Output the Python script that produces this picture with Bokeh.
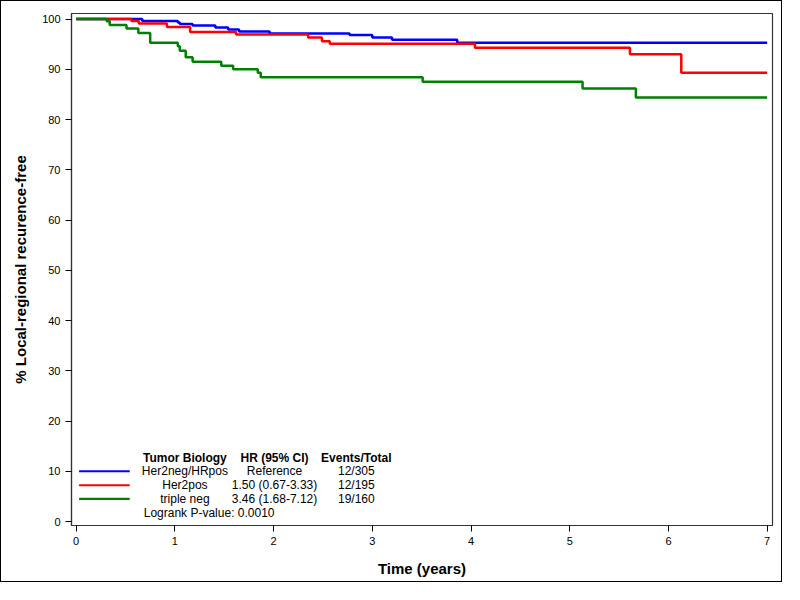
from bokeh.plotting import figure
from bokeh.models import Range1d, FixedTicker
from bokeh.core.properties import value
from bokeh.embed import file_html
from bokeh.resources import INLINE

# ---- data ----
blue_t = [0, 0.67, 1.03, 1.05, 1.18, 1.41, 1.54, 1.65, 1.96, 2.77, 3.00, 3.20, 3.86, 7.0]
blue_s = [100, 99.6, 99.3, 99.0, 98.7, 98.3, 97.9, 97.5, 97.1, 96.8, 96.3, 95.9, 95.3, 95.3]

red_t = [0, 0.56, 0.635, 0.92, 1.155, 1.62, 2.35, 2.49, 2.57, 4.04, 5.61, 6.13, 7.0]
red_s = [100, 99.6, 99.1, 98.4, 97.4, 96.9, 96.3, 95.6, 95.1, 94.3, 93.0, 89.3, 89.3]

green_t = [0, 0.31, 0.34, 0.51, 0.63, 0.75, 1.03, 1.05, 1.11, 1.18, 1.47, 1.59, 1.84, 1.87, 3.51, 5.13, 5.67, 7.0]
green_s = [100, 99.55, 98.8, 98.1, 97.2, 95.3, 94.6, 93.7, 92.4, 91.5, 90.7, 90.0, 89.3, 88.4, 87.5, 86.2, 84.4, 84.4]

groups = ["Her2neg/HRpos", "Her2pos", "triple neg"]
hr_text = ["Reference", "1.50 (0.67-3.33)", "3.46 (1.68-7.12)"]
events = ["12/305", "12/195", "19/160"]
headers = ["Tumor Biology", "HR (95% CI)", "Events/Total"]
pvalue_text = "Logrank P-value: 0.0010"
colors = ["#0000FF", "#FF0000", "#008000"]

x_ticks = [0, 1, 2, 3, 4, 5, 6, 7]
y_ticks = [0, 10, 20, 30, 40, 50, 60, 70, 80, 90, 100]

FONT = "Liberation Sans"

p = figure(width=782, height=582, output_backend="svg", toolbar_location=None,
           x_range=Range1d(-0.047, 7.054), y_range=Range1d(-0.78, 101.1),
           min_border_left=70, min_border_right=11, min_border_top=12, min_border_bottom=58)
p.styles = {"border": "1px solid #000000"}
p.background_fill_color = "white"
p.border_fill_color = "white"
p.outline_line_color = "#333333"
p.outline_line_width = 1.2
p.xgrid.visible = False
p.ygrid.visible = False

for ax in (p.xaxis[0], p.yaxis[0]):
    ax.major_tick_out = 6
    ax.major_tick_in = 0
    ax.minor_tick_out = 0
    ax.minor_tick_in = 0
    ax.axis_line_color = "#333333"
    ax.axis_line_width = 1.2
    ax.major_tick_line_color = "#000000"
    ax.major_label_text_font = FONT
    ax.major_label_text_font_size = "11px"
    ax.major_label_text_color = "#000000"
    ax.axis_label_text_font = FONT
    ax.axis_label_text_font_style = "bold"
    ax.axis_label_text_font_size = "15px"
    ax.axis_label_text_color = "#000000"

p.xaxis.ticker = FixedTicker(ticks=x_ticks)
p.yaxis.ticker = FixedTicker(ticks=y_ticks)
p.xaxis.axis_label = "Time (years)"
p.yaxis.axis_label = "% Local-regional recurence-free"
p.xaxis.major_label_standoff = 5
p.yaxis.major_label_standoff = 5
p.xaxis.axis_label_standoff = 12
p.yaxis.axis_label_standoff = 10

# curves
for t, s, c in [(blue_t, blue_s, colors[0]), (red_t, red_s, colors[1]), (green_t, green_s, colors[2])]:
    p.step(t, s, mode="after", line_color=c, line_width=2.5)

# legend block (positions in data coordinates, converted from reference pixels)
def px_x(px):
    return (px - 77.0) / 100.76

def px_y(py):
    return (535.0 - py) / 5.16

row_y = [px_y(483.3), px_y(497.7), px_y(511.7)]
col_x = [px_x(188), px_x(279.5), px_x(363)]

for i, c in enumerate(colors):
    p.line([px_x(80), px_x(131.7)], [row_y[i], row_y[i]], line_color=c, line_width=2.2)

p.text(x=col_x, y=[px_y(469.3)] * 3, text=headers, text_font=value(FONT),
       text_font_style="bold", text_font_size="12px", text_align="center",
       text_baseline="middle", text_color="#000000")

cells_x, cells_y, cells_t = [], [], []
for i in range(3):
    for j, col in enumerate([groups, hr_text, events]):
        cells_x.append(col_x[j])
        cells_y.append(row_y[i])
        cells_t.append(col[i])
p.text(x=cells_x, y=cells_y, text=cells_t, text_font=value(FONT),
       text_font_size="12px", text_align="center", text_baseline="middle",
       text_color="#000000")

p.text(x=[px_x(146)], y=[px_y(526.7)], text=[pvalue_text], text_font=value(FONT),
       text_font_size="12px", text_align="left", text_baseline="middle",
       text_color="#000000")

open("out.html", "w").write(file_html(p, INLINE))
